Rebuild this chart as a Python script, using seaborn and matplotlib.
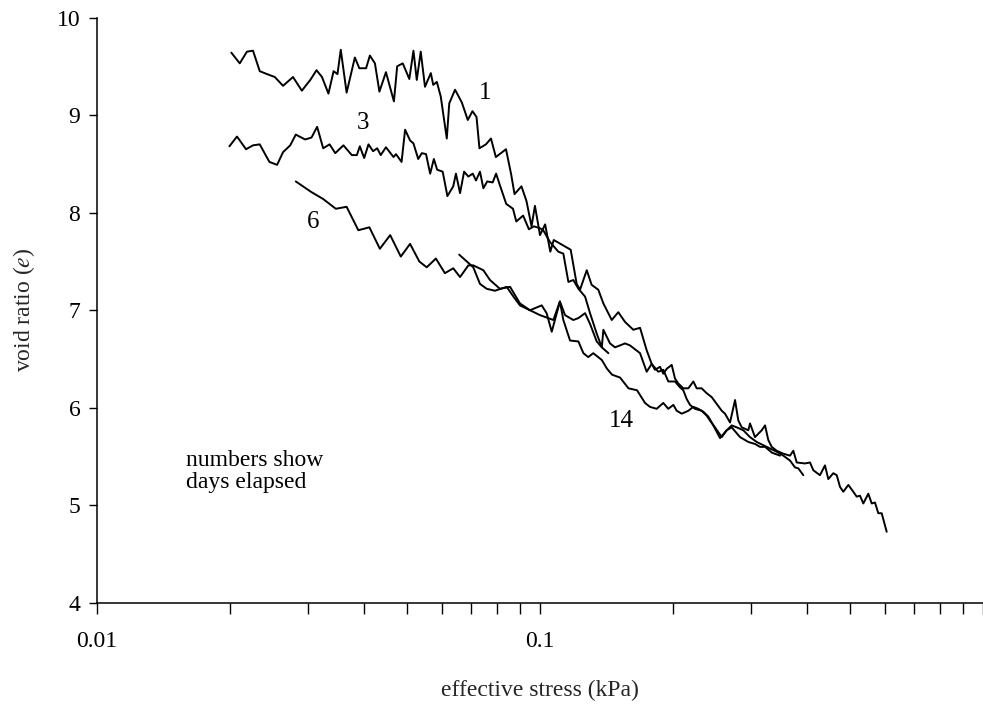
import numpy as np
import pandas as pd
import matplotlib
matplotlib.use("Agg")
import matplotlib.pyplot as plt
import matplotlib.ticker as mticker
import seaborn as sns

# ---- data: effective stress (kPa) and void ratio e, per day elapsed ----
stress_day1 = [0.0201, 0.0210, 0.0218, 0.0225, 0.0233, 0.0242, 0.0252, 0.0263, 0.0277, 0.0290,
               0.0303, 0.0313, 0.0322, 0.0333, 0.0342, 0.0349, 0.0355, 0.0366, 0.0382, 0.0391,
               0.0405, 0.0413, 0.0424, 0.0434, 0.0449, 0.0468, 0.0476, 0.0490, 0.0507, 0.0518,
               0.0527, 0.0538, 0.0550, 0.0567, 0.0574, 0.0585, 0.0597, 0.0616, 0.0624, 0.0643,
               0.0666, 0.0687, 0.0704, 0.0719, 0.0730, 0.0755, 0.0775, 0.0795, 0.0838, 0.0861,
               0.0876, 0.0908, 0.0932, 0.0957, 0.0974, 0.1000, 0.1027, 0.1055, 0.1074, 0.1122,
               0.1173, 0.1210, 0.1231, 0.1275, 0.1308, 0.1354, 0.1390, 0.1452, 0.1502, 0.1556,
               0.1624, 0.1682, 0.1741, 0.1787, 0.1818, 0.1866, 0.1898, 0.1932, 0.1983, 0.2017,
               0.2052, 0.2106, 0.2162, 0.2219, 0.2258, 0.2317, 0.2378, 0.2441, 0.2506, 0.2572,
               0.2616, 0.2685, 0.2756, 0.2803, 0.2854, 0.2953, 0.2979, 0.3057, 0.3166, 0.3221,
               0.3276, 0.3335, 0.3422, 0.3542, 0.3667, 0.3731, 0.3798, 0.3964, 0.4069, 0.4140,
               0.4286, 0.4398, 0.4475, 0.4593, 0.4675, 0.4756, 0.4838, 0.4966, 0.5096, 0.5187,
               0.5276, 0.5368, 0.5509, 0.5608, 0.5704, 0.5803, 0.5906, 0.6062]
void_day1 = [9.64, 9.53, 9.65, 9.66, 9.45, 9.42, 9.39, 9.30, 9.39, 9.25,
             9.36, 9.46, 9.39, 9.22, 9.45, 9.42, 9.67, 9.23, 9.59, 9.48,
             9.48, 9.61, 9.53, 9.24, 9.44, 9.14, 9.50, 9.53, 9.37, 9.66,
             9.36, 9.65, 9.29, 9.43, 9.31, 9.34, 9.19, 8.76, 9.12, 9.26,
             9.13, 8.95, 9.04, 8.98, 8.66, 8.70, 8.76, 8.57, 8.65, 8.39,
             8.19, 8.27, 8.12, 7.86, 8.07, 7.77, 7.88, 7.60, 7.72, 7.67,
             7.62, 7.27, 7.21, 7.41, 7.26, 7.21, 7.07, 6.90, 6.98, 6.88,
             6.80, 6.82, 6.59, 6.45, 6.39, 6.42, 6.35, 6.40, 6.44, 6.30,
             6.25, 6.20, 6.20, 6.27, 6.20, 6.20, 6.15, 6.11, 6.04, 5.97,
             5.94, 5.85, 6.08, 5.87, 5.80, 5.77, 5.84, 5.70, 5.77, 5.82,
             5.67, 5.60, 5.56, 5.53, 5.51, 5.56, 5.44, 5.43, 5.44, 5.36,
             5.31, 5.41, 5.27, 5.33, 5.31, 5.19, 5.14, 5.21, 5.14, 5.09,
             5.10, 5.02, 5.12, 5.02, 5.03, 4.92, 4.92, 4.73]

stress_day3 = [0.0199, 0.0207, 0.0217, 0.0225, 0.0233, 0.0245, 0.0255, 0.0263, 0.0273, 0.0281,
               0.0295, 0.0305, 0.0314, 0.0324, 0.0335, 0.0345, 0.0360, 0.0376, 0.0386, 0.0392,
               0.0401, 0.0410, 0.0420, 0.0429, 0.0437, 0.0449, 0.0467, 0.0473, 0.0487, 0.0496,
               0.0509, 0.0518, 0.0531, 0.0541, 0.0553, 0.0565, 0.0576, 0.0586, 0.0603, 0.0618,
               0.0637, 0.0646, 0.0660, 0.0674, 0.0689, 0.0705, 0.0717, 0.0732, 0.0745, 0.0760,
               0.0782, 0.0796, 0.0812, 0.0839, 0.0869, 0.0884, 0.0916, 0.0944, 0.0969, 0.1000,
               0.1017, 0.1053, 0.1100, 0.1129, 0.1159, 0.1189, 0.1221, 0.1264, 0.1297, 0.1343,
               0.1379, 0.1390, 0.1439, 0.1477, 0.1556, 0.1596, 0.1682, 0.1741, 0.1787, 0.1849,
               0.1898, 0.1948, 0.2017, 0.2070, 0.2106, 0.2144, 0.2181, 0.2238, 0.2317, 0.2378,
               0.2419, 0.2483, 0.2572, 0.2639, 0.2709, 0.2780, 0.2877, 0.2979, 0.3085, 0.3249,
               0.3422, 0.3542, 0.3667, 0.3763, 0.3829, 0.3930]
void_day3 = [8.68, 8.78, 8.65, 8.69, 8.70, 8.52, 8.49, 8.62, 8.69, 8.80,
             8.75, 8.77, 8.88, 8.66, 8.70, 8.61, 8.69, 8.59, 8.59, 8.68,
             8.56, 8.70, 8.63, 8.66, 8.59, 8.67, 8.57, 8.60, 8.52, 8.85,
             8.74, 8.71, 8.55, 8.61, 8.60, 8.40, 8.55, 8.44, 8.42, 8.17,
             8.27, 8.40, 8.20, 8.42, 8.37, 8.40, 8.33, 8.42, 8.25, 8.32,
             8.31, 8.40, 8.28, 8.09, 8.04, 7.91, 7.97, 7.83, 7.86, 7.84,
             7.82, 7.70, 7.60, 7.58, 7.29, 7.31, 7.22, 7.14, 6.97, 6.76,
             6.62, 6.80, 6.66, 6.62, 6.66, 6.64, 6.56, 6.37, 6.45, 6.37,
             6.39, 6.27, 6.27, 6.21, 6.18, 6.09, 6.03, 5.99, 5.97, 5.92,
             5.87, 5.80, 5.70, 5.77, 5.82, 5.80, 5.77, 5.70, 5.65, 5.60,
             5.55, 5.51, 5.46, 5.39, 5.38, 5.31]

stress_day6 = [0.0281, 0.0305, 0.0324, 0.0346, 0.0366, 0.0389, 0.0412, 0.0435, 0.0459, 0.0485,
               0.0509, 0.0534, 0.0555, 0.0582, 0.0610, 0.0637, 0.0660, 0.0689, 0.0707, 0.0745,
               0.0771, 0.0812, 0.0856, 0.0901, 0.0949, 0.1009, 0.1035, 0.1063, 0.1109, 0.1139,
               0.1189, 0.1221, 0.1264, 0.1297, 0.1343, 0.1379, 0.1427]
void_day6 = [8.32, 8.21, 8.14, 8.04, 8.06, 7.82, 7.85, 7.63, 7.77, 7.55,
             7.68, 7.50, 7.44, 7.53, 7.38, 7.43, 7.34, 7.46, 7.46, 7.41,
             7.31, 7.22, 7.24, 7.07, 7.00, 7.05, 6.97, 6.78, 7.09, 6.95,
             6.90, 6.92, 6.97, 6.86, 6.68, 6.62, 6.56]

stress_day14 = [0.0657, 0.0707, 0.0732, 0.0758, 0.0791, 0.0841, 0.0871, 0.0901, 0.0949, 0.1000,
                0.1072, 0.1109, 0.1129, 0.1169, 0.1221, 0.1253, 0.1285, 0.1319, 0.1379, 0.1417,
                0.1454, 0.1516, 0.1584, 0.1656, 0.1726, 0.1771, 0.1834, 0.1898, 0.1948, 0.2000,
                0.2035, 0.2089, 0.2162, 0.2219, 0.2277, 0.2337, 0.2399, 0.2462, 0.2549, 0.2639,
                0.2709, 0.2828, 0.2953, 0.3057, 0.3138, 0.3221, 0.3340, 0.3483]
void_day14 = [7.57, 7.44, 7.27, 7.22, 7.20, 7.24, 7.14, 7.05, 7.00, 6.95,
              6.90, 7.09, 6.90, 6.69, 6.68, 6.56, 6.52, 6.56, 6.49, 6.40,
              6.34, 6.31, 6.20, 6.18, 6.05, 6.01, 5.99, 6.05, 5.99, 6.03,
              5.97, 5.94, 5.97, 6.01, 5.99, 5.96, 5.91, 5.82, 5.69, 5.77,
              5.80, 5.70, 5.65, 5.63, 5.60, 5.60, 5.54, 5.51]

days = ["1", "3", "6", "14"]
label_stress = [0.0751, 0.0398, 0.0307, 0.1529]
label_void = [9.23, 8.92, 7.90, 5.87]

x_ticks = [0.01, 0.1]
x_ticklabels = ["0.01", "0.1"]
y_ticks = [4, 5, 6, 7, 8, 9, 10]

# ---- long-form table ----
frames = []
for d, s, v in zip(days,
                   [stress_day1, stress_day3, stress_day6, stress_day14],
                   [void_day1, void_day3, void_day6, void_day14]):
    frames.append(pd.DataFrame({"stress": s, "void": v, "day": d}))
df = pd.concat(frames, ignore_index=True)

sns.set_theme(style="ticks")
plt.rcParams["font.family"] = ["Liberation Serif", "DejaVu Serif"]
plt.rcParams["mathtext.fontset"] = "stix"

fig = plt.figure(figsize=(9.83, 7.09), dpi=100)
ax = fig.add_axes([97 / 983, 1 - 603 / 709, (983 - 97) / 983, (603 - 17.5) / 709])

sns.lineplot(data=df, x="stress", y="void", hue="day", units="day", estimator=None,
             sort=False, palette=["black"] * 4, legend=False, linewidth=1.4, ax=ax)

ax.set_xscale("log")
ax.set_xlim(0.01, 1.0)
ax.set_ylim(4, 10)

ax.xaxis.set_major_locator(mticker.FixedLocator(x_ticks + [1.0]))
ax.xaxis.set_major_formatter(mticker.FixedFormatter(x_ticklabels + [""]))
ax.xaxis.set_minor_locator(mticker.LogLocator(base=10, subs=np.arange(2, 10)))
ax.xaxis.set_minor_formatter(mticker.NullFormatter())
ax.set_yticks(y_ticks)
ax.set_yticklabels([str(t) for t in y_ticks])

ax.tick_params(axis="x", which="both", direction="out", length=8, width=1.0,
               colors="black", labelsize=17, pad=12)
ax.tick_params(axis="y", which="both", direction="out", length=6, width=1.0,
               colors="black", labelsize=17, pad=6)

for side in ["top", "right"]:
    ax.spines[side].set_visible(False)
for side in ["left", "bottom"]:
    ax.spines[side].set_linewidth(1.1)
    ax.spines[side].set_color("black")

ax.set_xlabel("effective stress (kPa)", fontsize=17, labelpad=20)
ax.set_ylabel("void ratio ($e$)", fontsize=17, labelpad=14)

for d, xs, ys in zip(days, label_stress, label_void):
    ax.text(xs, ys, d, fontsize=18, ha="center", va="center", color="black")

ax.text(0.0159, 5.35, "numbers show\ndays elapsed", fontsize=17, ha="left",
        va="center", linespacing=1.05, color="black")

fig.savefig("out.png", dpi=100)
